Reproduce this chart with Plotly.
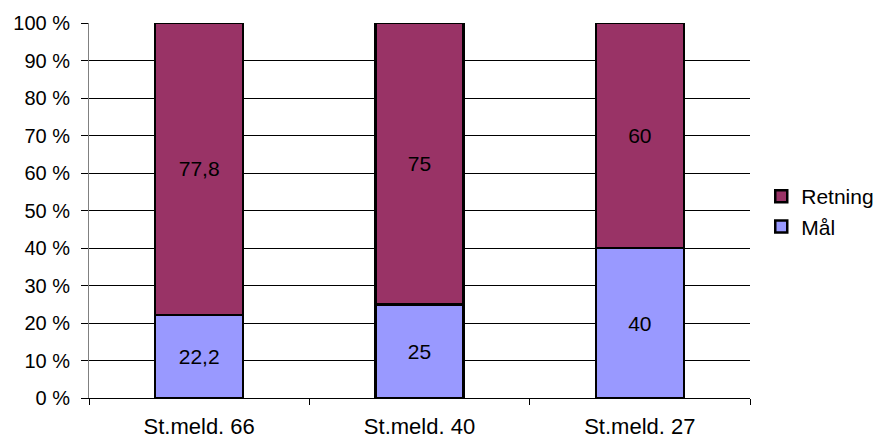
import plotly.graph_objects as go

categories = ["St.meld. 66", "St.meld. 40", "St.meld. 27"]
maal = [22.2, 25, 40]
retning = [77.8, 75, 60]
y_ticks = [0, 10, 20, 30, 40, 50, 60, 70, 80, 90, 100]
y_tick_labels = [f"{v} %" for v in y_ticks]


def fmt(v):
    return f"{v:g}".replace(".", ",")


FONT = "Liberation Sans, Arial, sans-serif"

fig = go.Figure()
fig.add_trace(go.Bar(
    name="Mål", x=categories, y=maal, legendgroup="a",
    marker=dict(color="#9999ff", line=dict(color="black", width=2.5)),
    text=[fmt(v) for v in maal], textposition="inside",
    insidetextanchor="middle", textangle=0,
    textfont=dict(color="black", size=21, family=FONT),
))
fig.add_trace(go.Bar(
    name="Retning", x=categories, y=retning, legendgroup="b",
    marker=dict(color="#993366", line=dict(color="black", width=2.5)),
    text=[fmt(v) for v in retning], textposition="inside",
    insidetextanchor="middle", textangle=0,
    textfont=dict(color="black", size=21, family=FONT),
))

fig.update_layout(
    barmode="stack",
    bargap=0.6,
    width=874, height=439,
    margin=dict(l=89, r=124, t=23, b=41, autoexpand=False),
    paper_bgcolor="white", plot_bgcolor="white",
    font=dict(family=FONT, size=20, color="black"),
    showlegend=True,
    legend=dict(
        traceorder="reversed",
        xref="container", yref="container",
        x=0.871, xanchor="left", y=0.518, yanchor="middle",
        font=dict(size=21), itemwidth=30, tracegroupgap=10,
        bgcolor="rgba(0,0,0,0)",
    ),
    xaxis=dict(
        showline=True, linecolor="black", linewidth=1,
        ticks="outside", tickson="boundaries", ticklen=6,
        tickcolor="black", showgrid=False,
        tickfont=dict(size=22), ticklabelstandoff=9,
    ),
    yaxis=dict(
        range=[0, 100], tickvals=y_ticks, ticktext=y_tick_labels,
        showline=True, linecolor="#808080", linewidth=1,
        ticks="outside", ticklen=7, tickcolor="black",
        showgrid=True, gridcolor="black", gridwidth=1,
        zeroline=False, tickfont=dict(size=20), ticklabelstandoff=7,
    ),
)

fig.write_html("out.html")
